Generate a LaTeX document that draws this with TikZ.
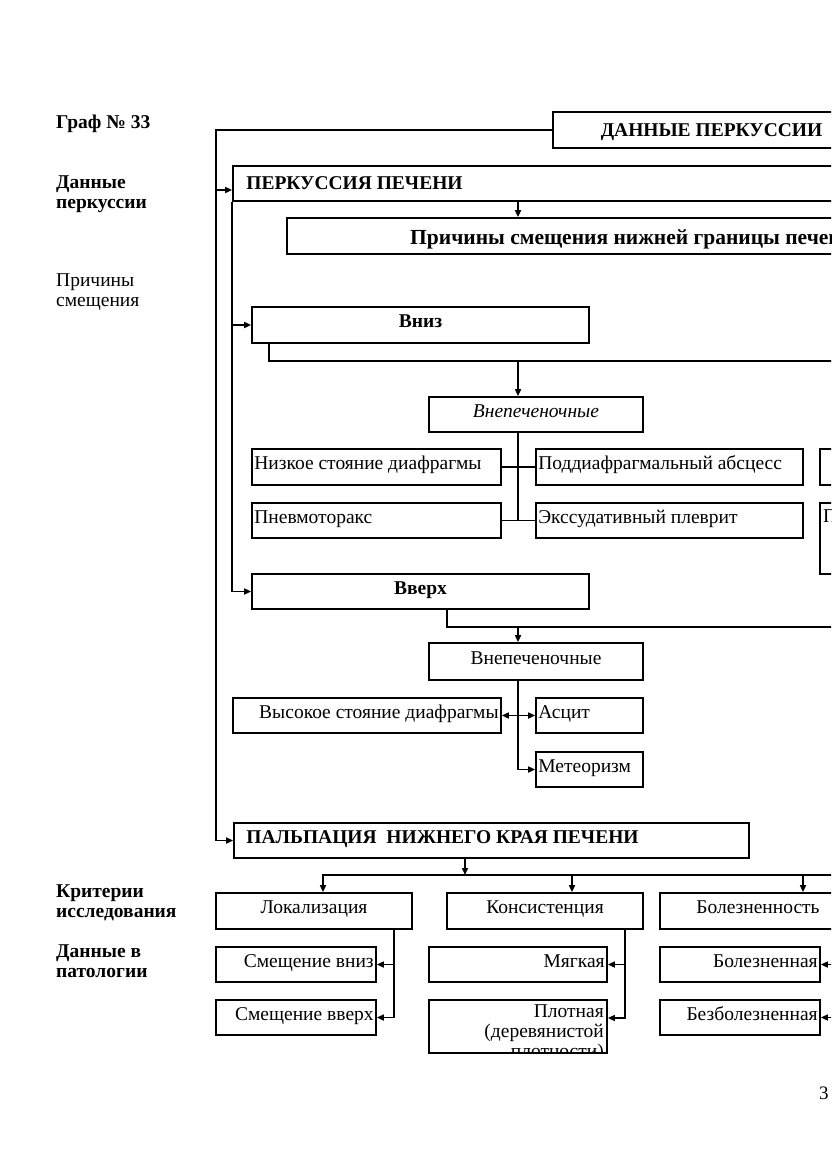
\documentclass[tikz,border=0pt]{standalone}
\usepackage{fontspec}
\setmainfont{Liberation Serif}
\usetikzlibrary{arrows.meta}
\newcommand\mkbox[5]{\node[bxframe, minimum width={(#4)-(#2)}, minimum height={(#5)-(#3)}] (#1) at ({((#2)+(#4))/2},{((#3)+(#5))/2}) {};}
\begin{document}
\begin{tikzpicture}[x=1pt,y=-1pt,
 bxframe/.style={draw=black, line width=1.7pt, rectangle, inner sep=0pt},
 tx/.style={inner xsep=0pt, inner ysep=0pt, text height=13pt, text depth=8pt, font=\fontsize{19.5}{20}\selectfont},
 btx/.style={tx, font=\fontsize{19.5}{20}\selectfont\bfseries},
 itx/.style={tx, font=\fontsize{19.5}{20}\selectfont\itshape},
 lbl/.style={inner sep=0pt, align=left, font=\fontsize{19.5}{20}\selectfont},
 blbl/.style={lbl, font=\fontsize{19.5}{20}\selectfont\bfseries},
 conn/.style={draw=black, line width=1.6pt},
 arr/.style={conn, -{Triangle[length=7pt,width=6pt]}},
 darr/.style={conn, {Triangle[length=7pt,width=6pt]}-{Triangle[length=7pt,width=6pt]}},
]
\useasboundingbox (0,0) rectangle (831,1174);
\clip (0,0) rectangle (831,1174);

% left labels
\node[blbl, anchor=base west] (g33) at (56,129) {Граф № 33};
\node[blbl, anchor=north west] (ldp) at (56,176) {Данные\\перкуссии};
\node[lbl, anchor=north west] (lps) at (56,274) {Причины\\смещения};
\node[blbl, anchor=north west] (lkr) at (56,885) {Критерии\\исследования};
\node[blbl, anchor=north west] (ldv) at (56,945) {Данные в\\патологии};

% boxes
\mkbox{dp}{553}{112}{870}{148}
\node[btx] (dp-t) at ([yshift=-4pt]dp.center) {ДАННЫЕ ПЕРКУССИИ};
\mkbox{pp}{233}{166}{900}{201}
\node[btx, anchor=west] (pp-t) at ([xshift=14pt,yshift=-4pt]pp.west) {ПЕРКУССИЯ ПЕЧЕНИ};
\mkbox{pr}{287}{218}{976}{254}
\node[anchor=base west, inner sep=0pt, font=\fontsize{21.5}{22}\selectfont\bfseries] (pr-t) at (410,244) {Причины смещения нижней границы печени};

\mkbox{vniz}{252}{307}{589}{343}
\node[btx] (vniz-t) at (vniz.center) {Вниз};
\mkbox{vnep1}{429}{397}{643}{432}
\node[itx] (vnep1-t) at (vnep1.center) {Внепеченочные};
\mkbox{nizk}{252}{449}{501}{485}
\node[tx, anchor=west] (nizk-t) at ([xshift=3pt]nizk.west) {Низкое стояние диафрагмы};
\mkbox{podd}{536}{449}{803}{485}
\node[tx, anchor=west] (podd-t) at ([xshift=3pt]podd.west) {Поддиафрагмальный абсцесс};
\mkbox{pnev}{252}{503}{501}{538}
\node[tx, anchor=west] (pnev-t) at ([xshift=3pt]pnev.west) {Пневмоторакс};
\mkbox{exs}{536}{503}{803}{538}
\node[tx, anchor=west] (exs-t) at ([xshift=3pt]exs.west) {Экссудативный плеврит};
\mkbox{ra}{820}{449}{1000}{485}
\mkbox{rb}{820}{503}{1000}{574}
\node[tx, anchor=base west] (rb-t) at (823,522) {П};

\mkbox{vverh}{252}{574}{589}{609}
\node[btx] (vverh-t) at (vverh.center) {Вверх};
\mkbox{vnep2}{429}{643}{643}{680}
\node[tx] (vnep2-t) at (vnep2.center) {Внепеченочные};
\mkbox{vys}{233}{698}{501}{733}
\node[tx, anchor=east] (vys-t) at ([xshift=-3pt]vys.east) {Высокое стояние диафрагмы};
\mkbox{asc}{536}{698}{643}{733}
\node[tx, anchor=west] (asc-t) at ([xshift=3pt]asc.west) {Асцит};
\mkbox{met}{536}{752}{643}{787}
\node[tx, anchor=west] (met-t) at ([xshift=3pt]met.west) {Метеоризм};

\mkbox{palp}{234}{823}{749}{858}
\node[btx, anchor=west] (palp-t) at ([xshift=13pt]palp.west) {ПАЛЬПАЦИЯ\ \ НИЖНЕГО КРАЯ ПЕЧЕНИ};

\mkbox{lok}{216}{893}{412}{929}
\node[tx] (lok-t) at (lok.center) {Локализация};
\mkbox{kons}{447}{893}{643}{929}
\node[tx] (kons-t) at (kons.center) {Консистенция};
\mkbox{bol}{660}{893}{856}{929}
\node[tx] (bol-t) at (bol.center) {Болезненность};

\mkbox{smv}{216}{947}{376}{982}
\node[tx, anchor=east] (smv-t) at ([xshift=-3pt]smv.east) {Смещение вниз};
\mkbox{smvv}{216}{1000}{376}{1035}
\node[tx, anchor=east] (smvv-t) at ([xshift=-3pt]smvv.east) {Смещение вверх};
\mkbox{myag}{429}{947}{607}{982}
\node[tx, anchor=east] (myag-t) at ([xshift=-3pt]myag.east) {Мягкая};
\mkbox{plot}{429}{1000}{607}{1053}
\begin{scope}
\clip (plot.south west) rectangle (plot.north east);
\node[lbl, align=right, anchor=north east] (plot-t) at (604,1004.5) {Плотная\\(деревянистой\\плотности)};
\end{scope}
\mkbox{bolz}{660}{947}{820}{982}
\node[tx, anchor=east] (bolz-t) at ([xshift=-3pt]bolz.east) {Болезненная};
\mkbox{bezb}{660}{1000}{820}{1035}
\node[tx, anchor=east] (bezb-t) at ([xshift=-3pt]bezb.east) {Безболезненная};

\node[anchor=base west, inner sep=0pt, font=\fontsize{19}{20}\selectfont] (pg) at (819,1099) {3};

% helper coordinates
\coordinate (x216) at (216,0);
\coordinate (c190) at (216,190);
\coordinate (x269) at (269,0);
\coordinate (x323) at (323,0);
\coordinate (x394) at (394,0);
\coordinate (x447) at (447,0);
\coordinate (x465) at (465,0);
\coordinate (x518) at (518,0);
\coordinate (x572) at (572,0);
\coordinate (x625) at (625,0);
\coordinate (x803) at (803,0);
\coordinate (x838) at (838,0);
\coordinate (e361) at (1000,361);
\coordinate (e627) at (1000,627);
\coordinate (e875) at (1000,875);
\coordinate (y1018) at (0,1018);

% connectors
\draw[arr] (dp.west) -- (dp.west -| x216) |- (palp.west);
\draw[arr] (c190) -- (c190 -| pp.west);
\draw[arr] (pp.south west) |- (vverh.west);
\draw[arr] (pp.south west |- vniz.west) -- (vniz.west);
\draw[arr] (pp.south -| x518) -- (pr.north -| x518);

\draw[conn] (vniz.south -| x269) |- (e361);
\draw[arr] (x518 |- e361) -- (vnep1.north -| x518);
\draw[conn] (vnep1.south -| x518) -- (x518 |- exs.west);
\draw[conn] (nizk.east) -- (podd.west);
\draw[conn] (pnev.east) -- (exs.west);

\draw[conn] (vverh.south -| x447) |- (e627);
\draw[arr] (x518 |- e627) -- (vnep2.north -| x518);
\draw[arr] (vnep2.south -| x518) |- (met.west);
\draw[darr] (vys.east) -- (asc.west);

\draw[arr] (palp.south -| x465) -- (x465 |- e875);
\draw[arr] (e875) -| (lok.north -| x323);
\draw[arr] (x572 |- e875) -- (kons.north -| x572);
\draw[arr] (x803 |- e875) -- (bol.north -| x803);

\draw[arr] (lok.south -| x394) |- (smvv.east);
\draw[arr] (x394 |- smv.east) -- (smv.east);
\draw[arr] (kons.south -| x625) |- (plot.east |- y1018);
\draw[arr] (x625 |- myag.east) -- (myag.east);
\draw[arr] (bol.south -| x838) |- (bezb.east);
\draw[arr] (x838 |- bolz.east) -- (bolz.east);
\end{tikzpicture}
\end{document}
